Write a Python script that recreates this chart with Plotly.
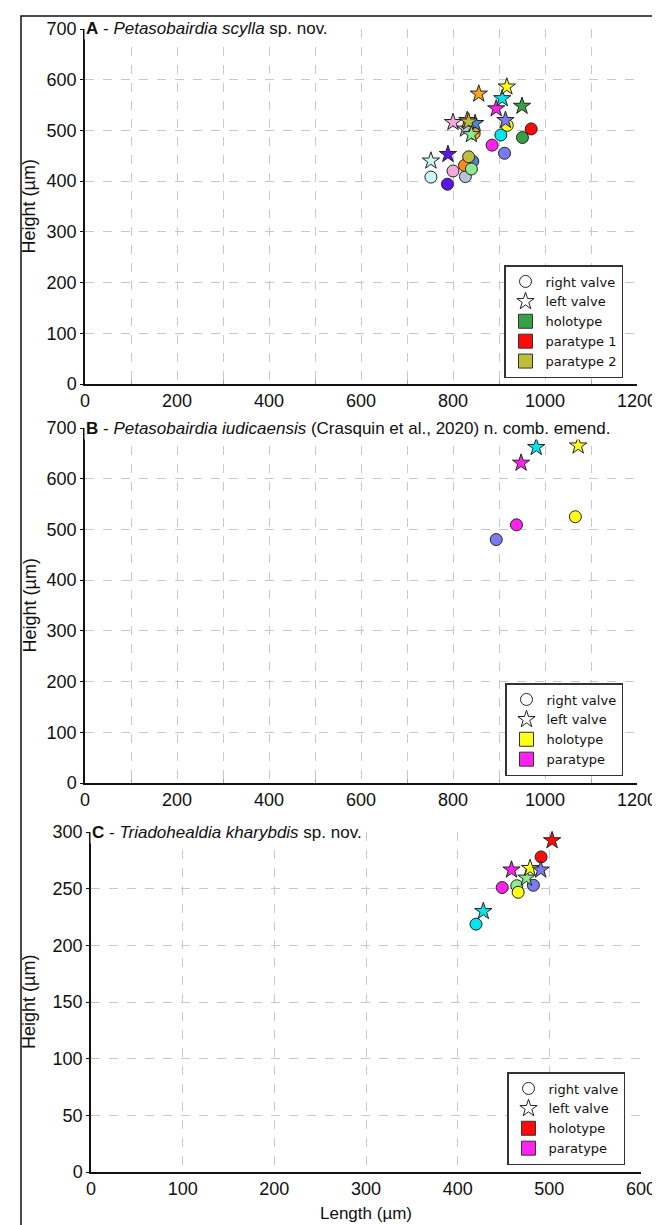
import plotly.graph_objects as go

# ---------------- data ----------------
# Panel A - Petasobairdia scylla
A_colors = ['#CCF7F5', '#5A14F0', '#F2AADC', '#B4C2DC', '#4F86D6', '#FFA41C', '#FF8C1A',
            '#BDBF3A', '#8CEB8C', '#FF22EE', '#00E5EE', '#FFFF14', '#7B7BF0', '#38A046', '#FF0A0A']
A_rv_len = [752, 788, 800, 827, 843, 846, 825, 834, 840, 885, 904, 918, 912, 951, 970]
A_rv_hgt = [408, 394, 420, 409, 439, 494, 431, 448, 424, 471, 491, 510, 455, 486, 503]
A_lv_len = [752, 789, 800, 827, 848, 856, 831, 834, 840, 894, 907, 917, 914, 950, None]
A_lv_hgt = [440, 453, 516, 503, 514, 572, 520, 517, 492, 543, 563, 586, 520, 548, None]
A_legend_names = ['holotype', 'paratype 1', 'paratype 2']
A_legend_colors = ['#38A046', '#FF0A0A', '#BDBF3A']

# Panel B - Petasobairdia iudicaensis
B_colors = ['#7B7BF0', '#FF22EE', '#FFFF14', '#00E5EE']
B_rv_len = [894, 938, 1066, None]
B_rv_hgt = [480, 509, 525, None]
B_lv_len = [None, 948, 1072, 981]
B_lv_hgt = [None, 631, 665, 662]
B_legend_names = ['holotype', 'paratype']
B_legend_colors = ['#FFFF14', '#FF22EE']

# Panel C - Triadohealdia kharybdis
C_colors = ['#00E5EE', '#FF22EE', '#8CEB8C', '#FFFF14', '#7B7BF0', '#FF0A0A']
C_rv_len = [420, 448.6, 464.5, 466, 482.6, 491]
C_rv_hgt = [218.7, 251, 252.6, 246.8, 253, 278]
C_lv_len = [428, 458.7, 475, 479, 490.6, 503]
C_lv_hgt = [230, 266.6, 259.5, 268, 266.6, 292.5]
C_legend_names = ['holotype', 'paratype']
C_legend_colors = ['#FF0A0A', '#FF22EE']

A_title = '<b>A</b> - <i>Petasobairdia scylla</i> sp. nov.'
B_title = '<b>B</b> - <i>Petasobairdia iudicaensis</i> (Crasquin et al., 2020) n. comb. emend.'
C_title = '<b>C</b> - <i>Triadohealdia kharybdis</i> sp. nov.'

# ---------------- layout geometry ----------------
W, H = 660, 1225
def px_x(p):
    return p / W
def px_y(p):
    return 1 - p / H

panels = [
    dict(ax='', xr=[0, 1200], xd=200, yr=[0, 700], yd=100, xl=(77, 629), yl=(21, 376)),
    dict(ax='2', xr=[0, 1200], xd=200, yr=[0, 700], yd=100, xl=(77, 629), yl=(420, 775)),
    dict(ax='3', xr=[0, 600], xd=100, yr=[0, 300], yd=50, xl=(83, 633), yl=(824, 1164)),
]

fig = go.Figure()

GRID = '#c8c8c8'
TICKFONT = dict(family='Liberation Sans, Arial', size=18, color='#111')
LEGFONT = dict(family='DejaVu Sans, Verdana', size=13, color='#111')

def add_points(axn, colors, rv_len, rv_hgt, lv_len, lv_hgt, csize, ssize):
    xa = 'x' + axn
    ya = 'y' + axn
    fig.add_trace(go.Scatter(x=rv_len, y=rv_hgt, mode='markers', xaxis=xa, yaxis=ya,
                             marker=dict(symbol='circle', size=csize, color=colors,
                                         line=dict(color='#222', width=1)),
                             showlegend=False, cliponaxis=False))
    fig.add_trace(go.Scatter(x=lv_len, y=lv_hgt, mode='markers', xaxis=xa, yaxis=ya,
                             marker=dict(symbol='star', size=ssize, color=colors,
                                         line=dict(color='#222', width=1)),
                             showlegend=False, cliponaxis=False))

def add_legend(axn, legend, names, colors):
    xa = 'x' + axn
    ya = 'y' + axn
    fig.add_trace(go.Scatter(x=[None], y=[None], mode='markers', xaxis=xa, yaxis=ya, legend=legend,
                             name='right valve',
                             marker=dict(symbol='circle', size=12, color='white',
                                         line=dict(color='#222', width=1))))
    fig.add_trace(go.Scatter(x=[None], y=[None], mode='markers', xaxis=xa, yaxis=ya, legend=legend,
                             name='left valve',
                             marker=dict(symbol='star', size=13, color='white',
                                         line=dict(color='#222', width=1))))
    for n, c in zip(names, colors):
        fig.add_trace(go.Scatter(x=[None], y=[None], mode='markers', xaxis=xa, yaxis=ya, legend=legend,
                                 name=n,
                                 marker=dict(symbol='square', size=14, color=c,
                                             line=dict(color='#333', width=1))))

add_points('', A_colors, A_rv_len, A_rv_hgt, A_lv_len, A_lv_hgt, 12, 13)
add_legend('', 'legend', A_legend_names, A_legend_colors)
add_points('2', B_colors, B_rv_len, B_rv_hgt, B_lv_len, B_lv_hgt, 12, 13)
add_legend('2', 'legend2', B_legend_names, B_legend_colors)
add_points('3', C_colors, C_rv_len, C_rv_hgt, C_lv_len, C_lv_hgt, 12, 13)
add_legend('3', 'legend3', C_legend_names, C_legend_colors)

layout = dict(width=W, height=H, margin=dict(l=0, r=0, t=0, b=0),
              paper_bgcolor='white', plot_bgcolor='white', showlegend=True)

for p in panels:
    n = p['ax']
    layout['xaxis' + n] = dict(
        domain=[px_x(p['xl'][0]), px_x(p['xl'][1])], range=p['xr'], anchor='y' + n,
        dtick=p['xd'], tick0=0, showgrid=True, gridcolor=GRID, griddash='dash', gridwidth=1,
        showline=True, linecolor='#111', linewidth=1.5, zeroline=False,
        ticks='', tickfont=TICKFONT, automargin=False,
        minor=dict(dtick=100, showgrid=True, gridcolor=GRID, griddash='dash',
                   ticks='inside', ticklen=4, tickcolor='#aaa'),
        fixedrange=True)
    layout['yaxis' + n] = dict(
        domain=[px_y(p['yl'][1]), px_y(p['yl'][0])], range=p['yr'], anchor='x' + n,
        dtick=p['yd'], tick0=0, showgrid=True, gridcolor=GRID, griddash='dash', gridwidth=1,
        showline=True, linecolor='#111', linewidth=1.5, zeroline=False,
        ticks='outside', ticklen=3, tickcolor='#111', tickfont=TICKFONT, automargin=False,
        fixedrange=True)

legpos = [('legend', 615, 370), ('legend2', 615, 768), ('legend3', 617, 1157)]
for name, lx, ly in legpos:
    layout[name] = dict(x=px_x(lx), y=px_y(ly), xanchor='right', yanchor='bottom',
                        bgcolor='white', bordercolor='#333', borderwidth=1.5,
                        font=LEGFONT, tracegroupgap=0, itemclick=False)

annotations = []
titles = [(A_title, 21), (B_title, 420), (C_title, 824)]
for (t, ty), p in zip(titles, panels):
    annotations.append(dict(text=t, xref='paper', yref='paper', x=px_x(p['xl'][0] - 1), y=px_y(ty),
                            xanchor='left', yanchor='middle', showarrow=False,
                            font=dict(family='Liberation Sans, Arial', size=17, color='#111'),
                            bgcolor='white', borderpad=1))
    annotations.append(dict(text='Height (µm)', xref='paper', yref='paper', x=px_x(21),
                            y=px_y((p['yl'][0] + p['yl'][1]) / 2), textangle=-90,
                            xanchor='center', yanchor='middle', showarrow=False,
                            font=dict(family='Liberation Sans, Arial', size=18, color='#111')))
annotations.append(dict(text='Length (µm)', xref='paper', yref='paper', x=px_x(358), y=px_y(1205),
                        xanchor='center', yanchor='middle', showarrow=False,
                        font=dict(family='Liberation Sans, Arial', size=17, color='#111')))
layout['annotations'] = annotations
layout['shapes'] = [dict(type='rect', xref='paper', yref='paper', x0=px_x(13), x1=px_x(650),
                         y0=-0.02, y1=px_y(8), line=dict(color='#111', width=1.5),
                         fillcolor='rgba(0,0,0,0)', layer='above')]

fig.update_layout(**layout)
fig.write_html('out.html')
